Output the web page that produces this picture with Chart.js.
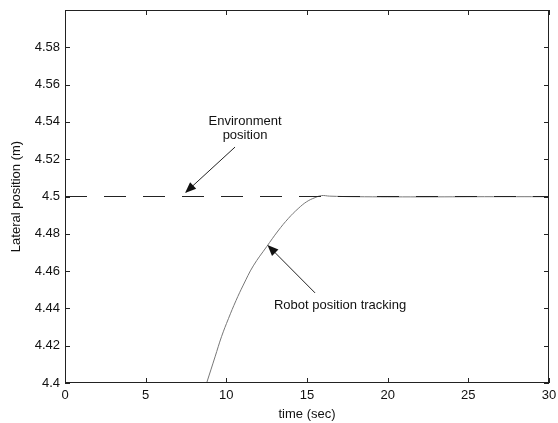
<!DOCTYPE html>
<html>
<head>
<meta charset="utf-8">
<script src="https://cdn.jsdelivr.net/npm/chart.js@4.4.1/dist/chart.umd.min.js"></script>
<style>
  body { margin: 0; background: #fff; }
  #wrap { width: 558px; height: 423px; }
</style>
</head>
<body>
<div id="wrap"><canvas id="grafica" width="558" height="423"></canvas></div>
<script>
// values
const envTime = [0, 30];
const envPos = [4.5, 4.5];

const robotTime = [8.78, 9.3, 9.7, 10.13, 10.6, 11.05, 11.67, 12.5, 13.2, 13.85, 14.45, 14.98, 15.5, 15.9, 16.4, 18, 22, 26, 30];
const robotPos = [4.400, 4.414, 4.4248, 4.4345, 4.4442, 4.4525, 4.4628, 4.4731, 4.4815, 4.4883, 4.4935, 4.4972, 4.4994, 4.5005, 4.5002, 4.4999, 4.4998, 4.4999, 4.4999];

const xTicks = [0, 5, 10, 15, 20, 25, 30];
const yTicks = [4.4, 4.42, 4.44, 4.46, 4.48, 4.5, 4.52, 4.54, 4.56, 4.58];

const FONT = "'Liberation Sans', Arial, Helvetica, sans-serif";

function toPoints(xs, ys) {
    let pts = [];
    for (let i = 0; i < xs.length; i++) {
        pts.push({ x: xs[i], y: ys[i] });
    }
    return pts;
}

function fmt(v) {
    // MATLAB style labels: 4.4, 4.42, 4.5 ...
    return String(parseFloat(v.toFixed(2)));
}

// box, inward ticks on all four sides, and the text/arrow notes
const boxPlugin = {
    id: 'boxPlugin',
    afterDatasetsDraw(chart) {
        const ctx = chart.ctx;
        const xs = chart.scales.x;
        const ys = chart.scales.y;
        const a = chart.chartArea;
        ctx.save();
        ctx.strokeStyle = '#222';
        ctx.lineWidth = 1;
        ctx.strokeRect(a.left + 0.5, a.top + 0.5, a.right - a.left - 1, a.bottom - a.top - 1);

        const tl = 5;
        ctx.beginPath();
        xTicks.forEach(t => {
            let px = Math.round(xs.getPixelForValue(t)) + 0.5;
            ctx.moveTo(px, a.bottom); ctx.lineTo(px, a.bottom - tl);
            ctx.moveTo(px, a.top); ctx.lineTo(px, a.top + tl);
        });
        yTicks.forEach(t => {
            let py = Math.round(ys.getPixelForValue(t)) + 0.5;
            ctx.moveTo(a.left, py); ctx.lineTo(a.left + tl, py);
            ctx.moveTo(a.right, py); ctx.lineTo(a.right - tl, py);
        });
        ctx.stroke();

        // notes
        ctx.fillStyle = '#111';
        ctx.font = '13px ' + FONT;
        ctx.textAlign = 'center';
        ctx.textBaseline = 'middle';
        ctx.fillText('Environment', xs.getPixelForValue(11.16), ys.getPixelForValue(4.5405));
        ctx.fillText('position', xs.getPixelForValue(11.16), ys.getPixelForValue(4.5325));
        ctx.fillText('Robot position tracking', xs.getPixelForValue(17.05), ys.getPixelForValue(4.4418));

        drawArrow(ctx, xs.getPixelForValue(10.54), ys.getPixelForValue(4.5265),
                       xs.getPixelForValue(7.44), ys.getPixelForValue(4.5019));
        drawArrow(ctx, xs.getPixelForValue(15.5), ys.getPixelForValue(4.4483),
                       xs.getPixelForValue(12.55), ys.getPixelForValue(4.4740));
        ctx.restore();
    }
};

function drawArrow(ctx, x1, y1, x2, y2) {
    const ang = Math.atan2(y2 - y1, x2 - x1);
    const len = 11, w = 4.5;
    ctx.beginPath();
    ctx.strokeStyle = '#222';
    ctx.moveTo(x1, y1);
    ctx.lineTo(x2 - Math.cos(ang) * len * 0.8, y2 - Math.sin(ang) * len * 0.8);
    ctx.stroke();
    ctx.beginPath();
    ctx.fillStyle = '#111';
    ctx.moveTo(x2, y2);
    ctx.lineTo(x2 - Math.cos(ang) * len - Math.sin(ang) * w, y2 - Math.sin(ang) * len + Math.cos(ang) * w);
    ctx.lineTo(x2 - Math.cos(ang) * len + Math.sin(ang) * w, y2 - Math.sin(ang) * len - Math.cos(ang) * w);
    ctx.closePath();
    ctx.fill();
}

const config = {
    type: 'line',
    data: {
        datasets: [
            {
                label: 'Environment position',
                data: toPoints(envTime, envPos),
                borderColor: '#222',
                borderWidth: 1,
                borderDash: [22, 17],
                pointRadius: 0,
                fill: false
            },
            {
                label: 'Robot position tracking',
                data: toPoints(robotTime, robotPos),
                borderColor: '#777',
                borderWidth: 1,
                pointRadius: 0,
                tension: 0.4,
                fill: false
            }
        ]
    },
    options: {
        responsive: false,
        animation: false,
        clip: true,
        layout: { padding: { top: 10, right: 9, left: 0, bottom: 0 } },
        plugins: {
            legend: { display: false },
            tooltip: { enabled: false }
        },
        scales: {
            x: {
                type: 'linear',
                min: 0,
                max: 30,
                afterBuildTicks: (s) => { s.ticks = xTicks.map(v => ({ value: v })); },
                afterFit: (s) => { s.height = 40; s.paddingLeft = 0; s.paddingRight = 0; },
                grid: { display: false, drawTicks: false },
                border: { display: false },
                ticks: {
                    padding: 5,
                    color: '#111',
                    font: { family: FONT, size: 13 },
                    callback: (v) => fmt(v)
                },
                title: {
                    display: true,
                    text: 'time (sec)',
                    color: '#111',
                    padding: { top: 0, bottom: 1 },
                    font: { family: FONT, size: 13 }
                }
            },
            y: {
                type: 'linear',
                min: 4.4,
                max: 4.6,
                afterBuildTicks: (s) => { s.ticks = yTicks.map(v => ({ value: v })); },
                afterFit: (s) => { s.width = 65; s.paddingTop = 0; s.paddingBottom = 0; },
                grid: { display: false, drawTicks: false },
                border: { display: false },
                ticks: {
                    padding: 5,
                    color: '#111',
                    font: { family: FONT, size: 13 },
                    callback: (v) => fmt(v)
                },
                title: {
                    display: true,
                    text: 'Lateral position (m)',
                    color: '#111',
                    padding: { top: 9, bottom: 0 },
                    font: { family: FONT, size: 13 }
                }
            }
        }
    },
    plugins: [boxPlugin]
};

let myChart = new Chart(document.getElementById('grafica'), config);
</script>
</body>
</html>
